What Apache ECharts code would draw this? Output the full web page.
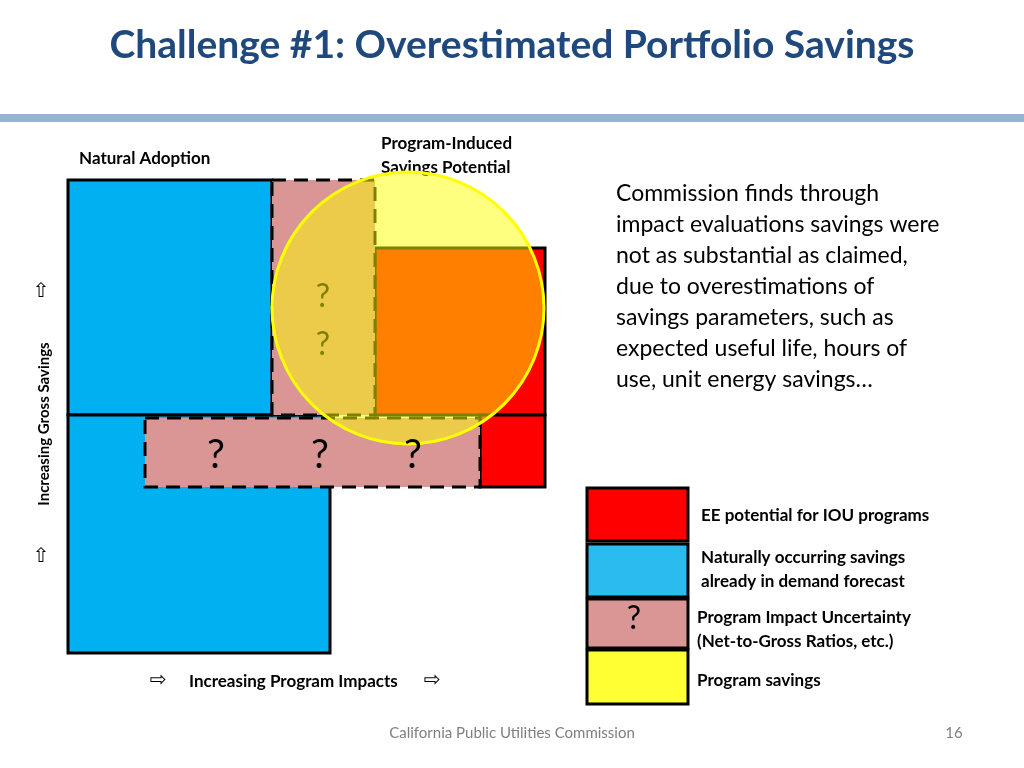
<!DOCTYPE html>
<html><head><meta charset="utf-8">
<script src="https://cdn.jsdelivr.net/npm/echarts@6/dist/echarts.min.js"></script>
<style>html,body{margin:0;padding:0;background:#fff}#c{width:1024px;height:768px}</style>
</head><body><div id="c"></div>
<script>
// Diagram blocks: [x0, y0, x1, y1, fillKey, dashed]
const blocks = [
  [68,180,272,415,'blue',0],
  [68,415,330,653,'blue',0],
  [375,248,545,415,'red',0],
  [480,415,545,487,'red',0],
  [272,180,375,415,'pink',1],
  [145,418,480,487,'pink',1]
];
const legendBlocks = [
  [587,488,688,541,'red',0],
  [587,544,688,597,'blue2',0],
  [587,599,688,648,'pink',0],
  [587,650,688,704,'yellow',0]
];
const circle = [408,308,136];
const legendLabels = ['EE potential for IOU programs','Naturally occurring savings\nalready in demand forecast','Program Impact Uncertainty\n(Net-to-Gross Ratios, etc.)','Program savings'];
const colors = {blue:'#00B0F0',blue2:'#2ABBEF',red:'#FF0000',pink:'#DA9694',yellow:'#FFFF33'};
const F = 'Lato, "Open Sans", sans-serif';

const chart = echarts.init(document.getElementById('c'));
function rectItem(params, api){
  const p0 = api.coord([api.value(0), api.value(1)]);
  const p1 = api.coord([api.value(2), api.value(3)]);
  const d = params.dataIndexInside;
  return {type:'rect', shape:{x:p0[0],y:p0[1],width:p1[0]-p0[0],height:p1[1]-p0[1]},
    style:{fill:colors[api.value(4)], stroke:'#000', lineWidth:3, lineDash: api.value(5)?[14,8]:null}};
}
chart.setOption({
  animation:false,
  grid:{left:0,top:0,width:1024,height:768},
  xAxis:{type:'value',min:0,max:1024,show:false},
  yAxis:{type:'value',min:0,max:768,inverse:true,show:false},
  series:[
    {type:'custom',renderItem:rectItem,data:blocks.map(b=>[...b]),encode:{x:[0,2],y:[1,3]},z:2},
    {type:'custom',renderItem:rectItem,data:legendBlocks.map(b=>[...b]),encode:{x:[0,2],y:[1,3]},z:2},
    {type:'custom',z:3,data:[circle],renderItem:(p,api)=>{
      const c=api.coord([api.value(0),api.value(1)]);
      const r=api.coord([api.value(0)+api.value(2),api.value(1)])[0]-c[0];
      return {type:'circle',shape:{cx:c[0],cy:c[1],r:r},style:{fill:'rgba(255,255,0,0.5)',stroke:'#FFFF00',lineWidth:3}};
    }}
  ],
  graphic:[
    {type:'text',left:'center',top:26,style:{text:'Challenge #1: Overestimated Portfolio Savings',font:'bold 39px '+F,fill:'#1F497D'}},
    {type:'rect',shape:{x:0,y:114,width:1024,height:8},style:{fill:'#95B3D7'}},
    {type:'text',x:79,y:150,style:{text:'Natural Adoption',font:'bold 17px '+F,fill:'#000'}},
    {type:'text',x:381,y:132,style:{text:'Program-Induced\nSavings Potential',font:'bold 17px '+F,fill:'#000',lineHeight:24}},
    {type:'text',x:616,y:178,z:5,style:{text:'Commission finds through\nimpact evaluations savings were\nnot as substantial as claimed,\ndue to overestimations of\nsavings parameters, such as\nexpected useful life, hours of\nuse, unit energy savings…',font:'23px '+F,fill:'#000',lineHeight:31}},
    {type:'text',x:323,y:297,z:10,style:{text:'?',font:'32px '+F,fill:'#7F7F00',align:'center',verticalAlign:'middle'}},
    {type:'text',x:323,y:345,z:10,style:{text:'?',font:'32px '+F,fill:'#7F7F00',align:'center',verticalAlign:'middle'}},
    {type:'text',x:216,y:455,z:10,style:{text:'?',font:'40px '+F,fill:'#000',align:'center',verticalAlign:'middle'}},
    {type:'text',x:320,y:455,z:10,style:{text:'?',font:'40px '+F,fill:'#000',align:'center',verticalAlign:'middle'}},
    {type:'text',x:413,y:455,z:10,style:{text:'?',font:'40px '+F,fill:'#000',align:'center',verticalAlign:'middle'}},
    {type:'text',x:634,y:619,z:10,style:{text:'?',font:'32px '+F,fill:'#000',align:'center',verticalAlign:'middle'}},
    {type:'text',x:701,y:516,style:{text:legendLabels[0],font:'bold 17px '+F,fill:'#000',verticalAlign:'middle'}},
    {type:'text',x:701,y:570,style:{text:legendLabels[1],font:'bold 17px '+F,fill:'#000',verticalAlign:'middle',lineHeight:24}},
    {type:'text',x:697,y:630,style:{text:legendLabels[2],font:'bold 17px '+F,fill:'#000',verticalAlign:'middle',lineHeight:24}},
    {type:'text',x:697,y:681,style:{text:legendLabels[3],font:'bold 17px '+F,fill:'#000',verticalAlign:'middle'}},
    {type:'text',x:44,y:424,rotation:Math.PI/2,style:{text:'Increasing Gross Savings',font:'bold 15px '+F,fill:'#000',align:'center',verticalAlign:'middle'}},
    {type:'text',x:41,y:292,style:{text:'⇧',font:'20px DejaVu Sans',fill:'#000',align:'center',verticalAlign:'middle'}},
    {type:'text',x:41,y:557,style:{text:'⇧',font:'20px DejaVu Sans',fill:'#000',align:'center',verticalAlign:'middle'}},
    {type:'text',x:158,y:681,style:{text:'⇨',font:'20px DejaVu Sans',fill:'#000',align:'center',verticalAlign:'middle'}},
    {type:'text',x:189,y:682,style:{text:'Increasing Program Impacts',font:'bold 17px '+F,fill:'#000',verticalAlign:'middle'}},
    {type:'text',x:432,y:681,style:{text:'⇨',font:'20px DejaVu Sans',fill:'#000',align:'center',verticalAlign:'middle'}},
    {type:'text',x:512,y:733,style:{text:'California Public Utilities Commission',font:'15px '+F,fill:'#7F7F7F',align:'center',verticalAlign:'middle'}},
    {type:'text',x:954,y:733,style:{text:'16',font:'15px '+F,fill:'#7F7F7F',align:'center',verticalAlign:'middle'}}
  ]
});
</script></body></html>
